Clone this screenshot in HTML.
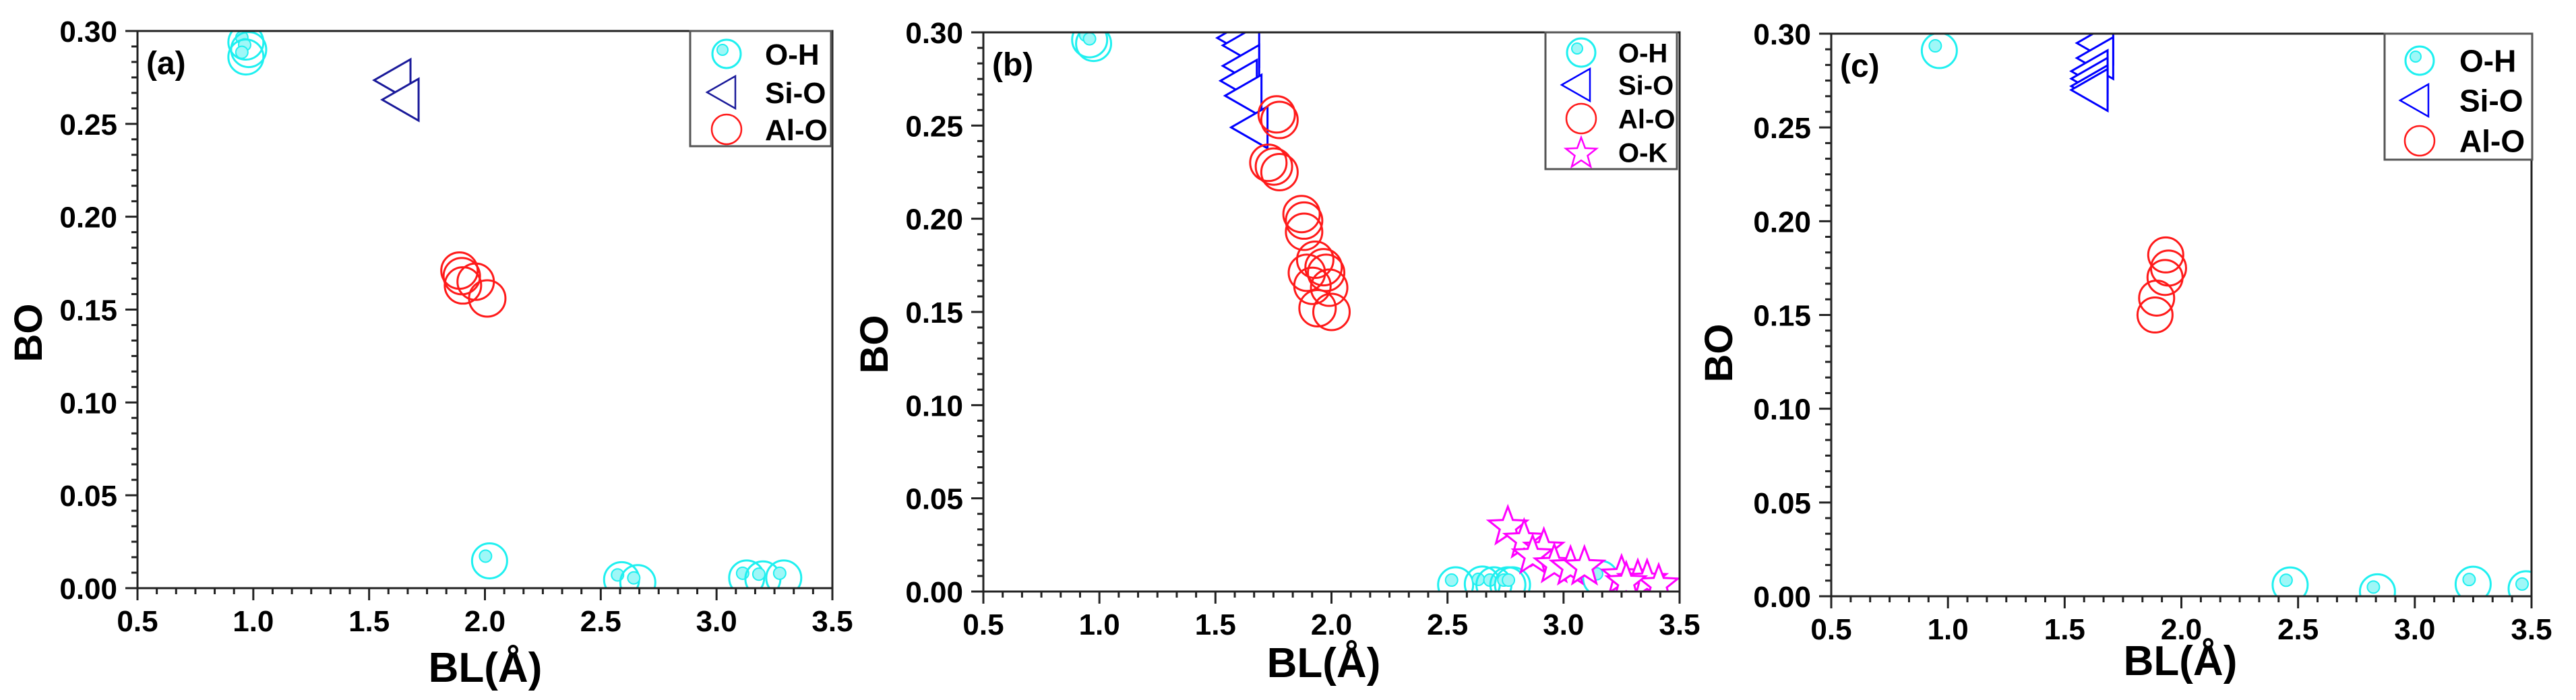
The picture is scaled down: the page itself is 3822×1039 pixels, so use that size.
<!DOCTYPE html>
<html><head><meta charset="utf-8"><style>
html,body{margin:0;padding:0;background:#fff;}
svg{display:block;font-family:"Liberation Sans",Arial,sans-serif;font-weight:bold;}
</style></head><body>
<svg id="fig" width="3822" height="1039" viewBox="0 0 3822 1039" xmlns="http://www.w3.org/2000/svg"></svg>
<script>
// ---- data (BL in Å, BO) ----
const xTicks = [0.5,1.0,1.5,2.0,2.5,3.0,3.5];
const xTickLabels = ["0.5","1.0","1.5","2.0","2.5","3.0","3.5"];
const yTicks = [0,0.05,0.10,0.15,0.20,0.25,0.30];
const yTickLabels = ["0.00","0.05","0.10","0.15","0.20","0.25","0.30"];

const aOH_x = [0.968,0.98,0.968,2.02,2.59,2.66,3.13,3.20,3.29];
const aOH_y = [0.294,0.290,0.286,0.0147,0.0046,0.003,0.0055,0.005,0.0055];
const aSiO_x = [1.60,1.635];
const aSiO_y = [0.2735,0.263];
const aAlO_x = [1.89,1.90,1.905,1.96,2.01];
const aAlO_y = [0.171,0.168,0.163,0.165,0.156];

const bOH_x = [0.958,0.975,2.535,2.65,2.70,2.76,2.78,3.16];
const bOH_y = [0.296,0.294,0.0036,0.004,0.0036,0.0036,0.0036,0.007];
const bSiO_x = [1.586,1.61,1.61,1.60,1.62,1.646];
const bSiO_y = [0.297,0.293,0.282,0.274,0.266,0.249];
const bAlO_x = [1.764,1.776,1.728,1.752,1.776,1.871,1.882,1.882,1.894,1.93,1.966,1.977,1.99,1.918,2.0,1.94];
const bAlO_y = [0.256,0.253,0.230,0.228,0.225,0.2025,0.199,0.193,0.171,0.178,0.174,0.171,0.163,0.164,0.150,0.152];
const bOK_x = [2.76,2.83,2.915,2.867,2.96,3.03,3.09,3.25,3.32,3.36,3.41,3.27];
const bOK_y = [0.0347,0.0276,0.0228,0.0192,0.0144,0.0132,0.0132,0.0084,0.006,0.006,0.0036,0.0048];

const cOH_x = [0.963,2.466,2.84,3.25,3.477];
const cOH_y = [0.291,0.006,0.0024,0.0064,0.004];
const cSiO_x = [1.63,1.63,1.606,1.606,1.606,1.606];
const cSiO_y = [0.295,0.287,0.280,0.276,0.272,0.270];
const cAlO_x = [1.933,1.945,1.93,1.894,1.887];
const cAlO_y = [0.182,0.175,0.170,0.159,0.150];

const NS="http://www.w3.org/2000/svg";
const svg=document.getElementById('fig');
function mk(tag,attrs,parent){const e=document.createElementNS(NS,tag);for(const k in attrs)e.setAttribute(k,attrs[k]);(parent||svg).appendChild(e);return e;}

const CY="#1ff0f0", RED="#ff1a1a", MAG="#ff00ff";

function ohMarker(g,x,y,r){
  const c=mk('circle',{cx:x,cy:y,r:r,fill:'none',stroke:CY,'stroke-width':3},g);
  
  
  mk('circle',{cx:x-6,cy:y-7,r:9,fill:'#9ff7f7',stroke:CY,'stroke-width':2},g);
}
function triMarker(g,x,y,col,name){
  const w=27,h=31;
  const p=mk('polygon',{points:`${x-w},${y} ${x+w},${y-h} ${x+w},${y+h}`,fill:'#fff',stroke:col,'stroke-width':3},g);
  
  
}
function circMarker(g,x,y,r,name){
  const c=mk('circle',{cx:x,cy:y,r:r,fill:'none',stroke:RED,'stroke-width':3},g);
  
  
}
function starMarker(g,x,y,R,name){
  let pts=[];for(let i=0;i<10;i++){const a=-Math.PI/2+i*Math.PI/5;const rr=i%2?R*0.42:R;pts.push((x+rr*Math.cos(a)).toFixed(1)+','+(y+rr*Math.sin(a)).toFixed(1));}
  const p=mk('polygon',{points:pts.join(' '),fill:'#fff',stroke:MAG,'stroke-width':3},g);
  
  
}

function panel(id,L,R,T,B,opts){
  const g=mk('g',{});
  
  
  const sx=v=>L+(v-0.5)/3*(R-L);
  const sy=v=>B-(v/0.30)*(B-T);
  const cp=mk('clipPath',{id:'clip'+id},g);
  mk('rect',{x:L,y:T,width:R-L,height:B-T},cp);
  // data layer
  const d=mk('g',{'clip-path':`url(#clip${id})`},g);
  opts.series(d,sx,sy);
  // frame
  const fr=mk('rect',{x:L,y:T,width:R-L,height:B-T,fill:'none',stroke:'#222','stroke-width':3},g);
  
  
  // x ticks
  for(let i=0;i<=36;i++){const v=0.5+i*3/36;const x=sx(v);const major=i%6===0;
    mk('line',{x1:x,y1:B,x2:x,y2:B+(major?18:9),stroke:'#222','stroke-width':3},g);}
  xTicks.forEach((v,i)=>{const t=mk('text',{x:sx(v),y:B+64,'font-size':44,'text-anchor':'middle',fill:'#000'},g);t.textContent=xTickLabels[i];
    
    });
  // y ticks
  for(let i=0;i<=36;i++){const v=i*0.3/36;const y=sy(v);const major=i%6===0;
    mk('line',{x1:L,y1:y,x2:L-(major?18:9),y2:y,stroke:'#222','stroke-width':3},g);}
  yTicks.forEach((v,i)=>{const t=mk('text',{x:L-30,y:sy(v)+16,'font-size':44,'text-anchor':'end',fill:'#000'},g);t.textContent=yTickLabels[i];
    
    });
  // titles
  const xt=mk('text',{x:opts.xtx,y:opts.xty,'font-size':62,'text-anchor':'middle',fill:'#000'},g);xt.textContent='BL(Å)';
  
  
  const yt=mk('text',{x:0,y:0,'font-size':58,'text-anchor':'middle',fill:'#000',transform:`translate(${opts.ytx},${opts.yty}) rotate(-90)`},g);yt.textContent='BO';
  
  
  const pl=mk('text',{x:L+13,y:T+64,'font-size':48,fill:'#000'},g);pl.textContent='('+id+')';
  
  
  // legend
  const lg=opts.legend;
  const lgG=mk('g',{},g);
  
  
  mk('rect',{x:lg.x0,y:T,width:lg.x1-lg.x0,height:lg.y1-T,fill:'#fff',stroke:'#555','stroke-width':3},lgG);
  lg.items.forEach((it,i)=>{const y=lg.rows[i];
    if(it[0]==='oh'){mk('circle',{cx:lg.mx,cy:y,r:21,fill:'none',stroke:CY,'stroke-width':3},lgG);mk('circle',{cx:lg.mx-6,cy:y-6,r:8,fill:'#9ff7f7',stroke:CY,'stroke-width':2},lgG);}
    else if(it[0]==='tri'){mk('polygon',{points:`${lg.mx-29},${y} ${lg.mx+13},${y-24} ${lg.mx+13},${y+24}`,fill:'none',stroke:it[2],'stroke-width':2.5},lgG);}
    else if(it[0]==='circ'){mk('circle',{cx:lg.mx,cy:y,r:22,fill:'none',stroke:RED,'stroke-width':2.5},lgG);}
    else if(it[0]==='star'){let pts=[];for(let k=0;k<10;k++){const a=-Math.PI/2+k*Math.PI/5;const rr=k%2?10:24;pts.push((lg.mx+rr*Math.cos(a)).toFixed(1)+','+(y+2+rr*Math.sin(a)).toFixed(1));}mk('polygon',{points:pts.join(' '),fill:'none',stroke:MAG,'stroke-width':2.5},lgG);}
    const t=mk('text',{x:lg.tx,y:y+lg.fs*0.36,'font-size':lg.fs,fill:'#000'},lgG);t.textContent=it[1];
    
    
  });
}

panel('a',204,1235,46,873,{
  xtx:720,xty:1012,ytx:62,yty:494,
  legend:{x0:1024,x1:1233,y1:217,mx:1078,tx:1135,fs:44,rows:[80,137,192],
    items:[['oh','O-H'],['tri','Si-O','#1a1a9a'],['circ','Al-O']]},
  series:(d,sx,sy)=>{
    aOH_x.forEach((v,i)=>ohMarker(d,sx(v),sy(aOH_y[i]),26));
    aSiO_x.forEach((v,i)=>triMarker(d,sx(v),sy(aSiO_y[i]),'#1a1a9a','si-o-point'));
    aAlO_x.forEach((v,i)=>circMarker(d,sx(v),sy(aAlO_y[i]),27,'al-o-point'));
  }});

panel('b',1459,2492,48,878,{
  xtx:1964,xty:1005,ytx:1317,yty:511,
  legend:{x0:2293,x1:2488,y1:251,mx:2346,tx:2401,fs:40,rows:[78,126,176,226],
    items:[['oh','O-H'],['tri','Si-O','#0000ff'],['circ','Al-O'],['star','O-K']]},
  series:(d,sx,sy)=>{
    bOH_x.forEach((v,i)=>ohMarker(d,sx(v),sy(bOH_y[i]),26));
    bSiO_x.forEach((v,i)=>triMarker(d,sx(v),sy(bSiO_y[i]),'#0000ff','si-o-point'));
    bAlO_x.forEach((v,i)=>circMarker(d,sx(v),sy(bAlO_y[i]),27,'al-o-point'));
    bOK_x.forEach((v,i)=>starMarker(d,sx(v),sy(bOK_y[i]),30,'o-k-point'));
  }});

panel('c',2717,3756,50,885,{
  xtx:3235,xty:1002,ytx:2570,yty:524,
  legend:{x0:3538,x1:3757,y1:237,mx:3590,tx:3649,fs:46,rows:[90,149,209],
    items:[['oh','O-H'],['tri','Si-O','#0000ff'],['circ','Al-O']]},
  series:(d,sx,sy)=>{
    cOH_x.forEach((v,i)=>ohMarker(d,sx(v),sy(cOH_y[i]),26));
    cSiO_x.forEach((v,i)=>triMarker(d,sx(v),sy(cSiO_y[i]),'#0000ff','si-o-point'));
    cAlO_x.forEach((v,i)=>circMarker(d,sx(v),sy(cAlO_y[i]),26,'al-o-point'));
  }});
</script>
</body></html>
